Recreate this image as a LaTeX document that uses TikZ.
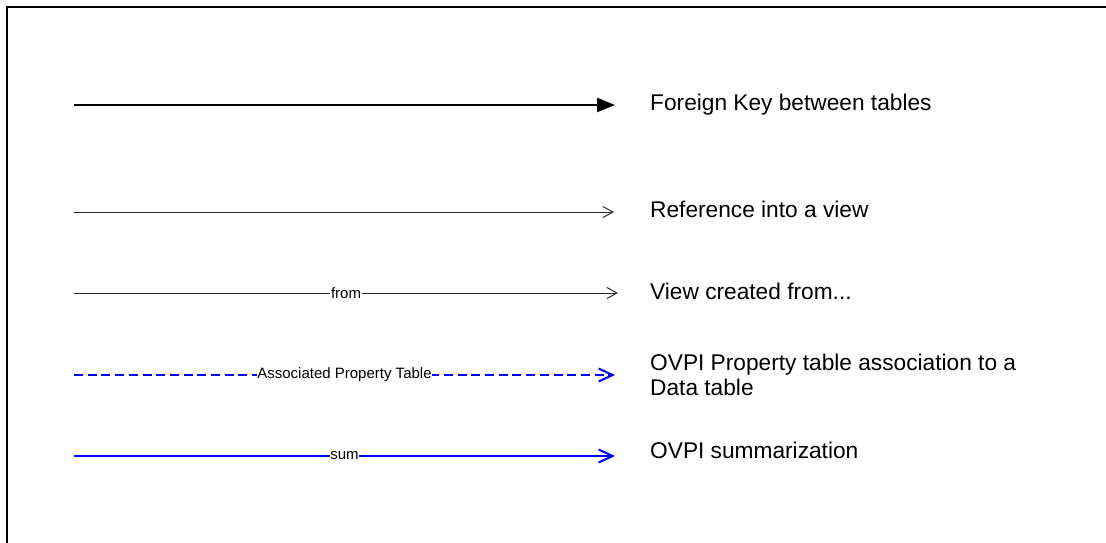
\documentclass[tikz,border=0pt]{standalone}
\usepackage{fontspec}
\setmainfont{Liberation Sans}
\usetikzlibrary{arrows.meta}

\begin{document}
\begin{tikzpicture}[
    x=1pt, y=-1pt,
    legend/.style={anchor=west, inner sep=0pt, align=left, font=\fontsize{22.7}{25}\selectfont},
    tag/.style={fill=white, text=black, inner sep=0.6pt, font=\fontsize{15}{16}\selectfont},
    fkey/.style={-{Triangle[length=18pt, width=14pt]}, line width=2.5pt},
    viewref/.style={-{Straight Barb[length=10pt, width=11pt]}, black!85, line width=1pt},
    propassoc/.style={-{Straight Barb[length=14pt, width=13pt]}, blue, line width=2pt, dash pattern=on 9pt off 4.7pt},
    summ/.style={-{Straight Barb[length=14pt, width=13pt]}, blue, line width=2pt}
]
    \useasboundingbox (0,0) rectangle (1106,542);
    % Frame
    \draw[line width=2.5pt] (7,545) -- (7,7) -- (1106,7);

    % Line ends
    \coordinate (fk-a) at (74,105);   \coordinate (fk-b) at (615,105);
    \coordinate (ref-a) at (74,212);  \coordinate (ref-b) at (614,212);
    \coordinate (from-a) at (74,293); \coordinate (from-b) at (618,293);
    \coordinate (prop-a) at (74,375); \coordinate (prop-b) at (615,375);
    \coordinate (sum-a) at (74,456);  \coordinate (sum-b) at (615,456);

    % Legend texts
    \node[legend] (fk-txt) at (650,105) {Foreign Key between tables};
    \node[legend] (ref-txt) at (650,209) {Reference into a view};
    \node[legend] (from-txt) at (650,291) {View created from...};
    \node[legend] (prop-txt) at (650,375) {OVPI Property table association to a\\Data table};
    \node[legend] (sum-txt) at (650,450) {OVPI summarization};

    % Connectors
    \draw[fkey] (fk-a) -- (fk-b);
    \draw[viewref] (ref-a) -- (ref-b);
    \draw[viewref] (from-a) -- node[tag] {from} (from-b);
    \draw[propassoc] (prop-a) -- node[tag] {Associated Property Table} (prop-b);
    \draw[summ] (sum-a) -- node[tag] {sum} (sum-b);

\end{tikzpicture}
\end{document}
